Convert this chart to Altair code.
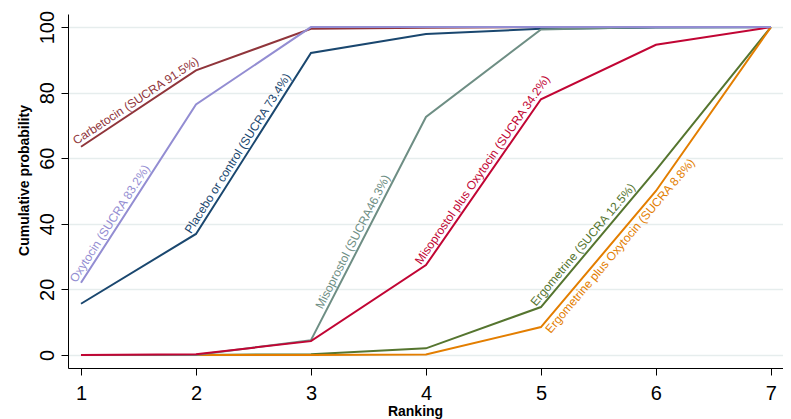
import math
import altair as alt
import pandas as pd

ranks = [1, 2, 3, 4, 5, 6, 7]

# drawing order (Stata s2color order)
series = [
    "Placebo or control",
    "Carbetocin",
    "Ergometrine",
    "Ergometrine plus Oxytocin",
    "Misoprostol",
    "Misoprostol plus Oxytocin",
    "Oxytocin",
]
colors = ["#1a476f", "#90353b", "#55752f", "#e37e00", "#6e8e84", "#c10534", "#938dd2"]

placebo = [15.6, 36.9, 92.1, 97.9, 99.5, 99.9, 100]
carbetocin = [63.5, 86.8, 99.5, 99.8, 100, 100, 100]
ergometrine = [0, 0, 0.2, 2.0, 14.6, 56.4, 100]
ergo_oxy = [0, 0, 0, 0.1, 8.5, 50.0, 100]
misoprostol = [0, 0, 4.5, 72.6, 99.3, 100, 100]
miso_oxy = [0, 0.2, 4.2, 27.4, 78.0, 94.6, 100]
oxytocin = [22.0, 76.4, 100, 100, 100, 100, 100]

values = [placebo, carbetocin, ergometrine, ergo_oxy, misoprostol, miso_oxy, oxytocin]

labels = [
    "Placebo or control (SUCRA 73.4%)",
    "Carbetocin (SUCRA 91.5%)",
    "Ergometrine (SUCRA 12.5%)",
    "Ergometrine plus Oxytocin (SUCRA 8.8%)",
    "Misoprostol (SUCRA46.3%)",
    "Misoprostol plus Oxytocin (SUCRA 34.2%)",
    "Oxytocin (SUCRA 83.2%)",
]
# label placed along segment starting at this rank, at this fraction of the segment
label_seg = [2, 1, 5, 5, 3, 4, 1]
label_frac = [0.0, 0.0, 0.0, 0.0, 0.14, 0.0, 0.0]
label_below = [False, False, False, True, False, False, False]

W, H = 715, 354
xdom = [0.887, 7.105]
ydom = [-4, 104]
xpx = W / (xdom[1] - xdom[0])
ypx = H / (ydom[1] - ydom[0])

rows = []
for s, vals in zip(series, values):
    for r, v in zip(ranks, vals):
        rows.append({"series": s, "rank": r, "prob": v})
df = pd.DataFrame(rows)

lrows = []
for s, vals, lab, seg, fr, below in zip(series, values, labels, label_seg, label_frac, label_below):
    v1, v2 = vals[seg - 1], vals[seg]
    ang = math.degrees(math.atan2((v2 - v1) * ypx, xpx))
    lrows.append({
        "series": s,
        "label": lab,
        "rank": seg + fr,
        "prob": v1 + fr * (v2 - v1),
        "angle": (360 - ang) % 360,
        "below": below,
    })
ldf = pd.DataFrame(lrows)

font = "Liberation Sans"

x = alt.X("rank:Q", scale=alt.Scale(domain=xdom, nice=False, zero=False),
          axis=alt.Axis(values=ranks, grid=False, title="Ranking", format="d",
                        titleX=347, titleY=47, titleBaseline="alphabetic",
                        titleAnchor="start", titleAlign="center"))
y = alt.Y("prob:Q", scale=alt.Scale(domain=ydom, nice=False, zero=False),
          axis=alt.Axis(values=[0, 20, 40, 60, 80, 100], title="Cumulative probability",
                        labelAngle=270, labelAlign="center", labelBaseline="alphabetic",
                        labelPadding=8, titleX=-40, titleY=166, titleAngle=270,
                        titleBaseline="alphabetic", titleAlign="center"))
color = alt.Color("series:N", scale=alt.Scale(domain=series, range=colors), legend=None)

lines = alt.Chart(df).mark_line(strokeWidth=2).encode(x=x, y=y, color=color)

above = alt.Chart(ldf).transform_filter("!datum.below").mark_text(
    align="left", baseline="alphabetic", dx=-3, dy=-4, fontSize=12, font=font
).encode(x="rank:Q", y="prob:Q", text="label:N", color=color,
         angle=alt.Angle("angle:Q", scale=None))
belowt = alt.Chart(ldf).transform_filter("datum.below").mark_text(
    align="left", baseline="top", dx=1, dy=3, fontSize=12, font=font
).encode(x="rank:Q", y="prob:Q", text="label:N", color=color,
         angle=alt.Angle("angle:Q", scale=None))

chart = alt.layer(lines, above, belowt).properties(
    width=W, height=H,
    autosize=alt.AutoSizeParams(type="none"),
    padding={"left": 60, "top": 6, "right": 0, "bottom": 52},
).configure_view(stroke=None).configure_axis(
    domainColor="black", domainWidth=1, tickColor="black", tickSize=7, tickWidth=1,
    labelFont=font, labelFontSize=20, labelColor="black",
    titleFont=font, titleFontSize=14, titleFontWeight="bold", titleColor="black",
    gridColor="#e6eded", gridWidth=1.5,
).configure_axisX(labelPadding=8)

chart.save("out.html", embed_options={"renderer": "svg", "actions": False})
